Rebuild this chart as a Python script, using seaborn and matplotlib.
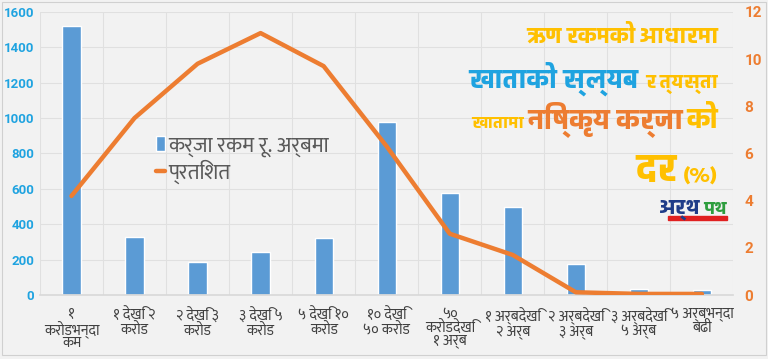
# plot.py
# NPA rate and loan amount by loan-size slab (Nepali labels)

import numpy as np
import pandas as pd
import seaborn as sns
from matplotlib import pyplot as plt

# data
categories = ['१\nकरोडभन्दा\nकम', '१ देखि २\nकरोड', '२ देखि ३\nकरोड', '३ देखि ५\nकरोड',
              '५ देखि १०\nकरोड', '१० देखि\n५० करोड', '५०\nकरोडदेखि\n१ अर्ब', '१ अर्बदेखि\n२ अर्ब',
              '२ अर्बदेखि\n३ अर्ब', '३ अर्बदेखि\n५ अर्ब', '५ अर्बभन्दा\nबढी']
amount  = [1520, 330, 185, 245, 320, 975, 575, 500, 175, 35, 30]
percent = [4.2, 7.5, 9.8, 11.1, 9.7, 6.3, 2.6, 1.7, 0.12, 0.05, 0.05]
left_ticks  = [0, 200, 400, 600, 800, 1000, 1200, 1400, 1600]
right_ticks = [0, 2, 4, 6, 8, 10, 12]

bar_label  = 'कर्जा रकम रू. अर्बमा'
line_label = 'प्रतिशत'

# colours
blue   = '#5B9BD5'
orange = '#ED7D31'
sky    = '#1FA3E0'
gold   = '#FFC000'
grey   = '#404040'

# fonts
text_font  = ['Ek Mukta', 'DejaVu Sans']
title_font = ['Biryani', 'DejaVu Sans']
num_font   = ['Roboto', 'DejaVu Sans']

sns.set_theme(style='whitegrid')
plt.rcParams['font.family'] = text_font

df = pd.DataFrame({'cat': categories, 'amount': amount, 'percent': percent})
df['pos'] = np.arange(len(df))

fig = plt.figure(figsize=(7.68, 3.59), dpi=100, facecolor='#F2F2F2')
ax = fig.add_axes([0.052, 0.178, 0.903, 0.789])
ax.set_facecolor('#F2F2F2')

sns.barplot(data=df, x='pos', y='amount', color=blue, width=0.29, saturation=1,
            ax=ax, label=bar_label, native_scale=True)
ax2 = ax.twinx()
sns.lineplot(data=df, x='pos', y='percent', color=orange, linewidth=3.2, ax=ax2,
             label=line_label)

# axes limits and ticks
ax.set_xlim(-0.5, len(df) - 0.5)
ax.set_ylim(0, 1600)
ax.set_yticks(left_ticks)
ax2.set_ylim(0, 12)
ax2.set_yticks(right_ticks)
ax.set_xticks(df['pos'])
ax.set_xticklabels(categories, fontsize=10.5, color=grey, linespacing=0.95)
ax.set_xlabel('')
ax.set_ylabel('')
ax2.set_ylabel('')
ax.tick_params(axis='y', colors=sky, labelsize=9.5, pad=4, length=0)
for t in ax.get_yticklabels():
    t.set_fontweight('bold')
    t.set_family(num_font)
ax2.tick_params(axis='y', colors=orange, labelsize=11, pad=8, length=0)
for t in ax2.get_yticklabels():
    t.set_fontweight('bold')
    t.set_family(num_font)
ax.tick_params(axis='x', length=0, pad=9)

# grid: horizontal every 200, vertical between categories
ax.grid(axis='y', color='#E0E0E0', linewidth=0.8)
ax.set_xticks(np.arange(-0.5, len(df), 1), minor=True)
ax.grid(axis='x', which='major', visible=False)
ax.grid(axis='x', which='minor', color='#E0E0E0', linewidth=0.8)
ax.tick_params(axis='x', which='minor', length=0)
ax2.grid(False)
for a in (ax, ax2):
    for s in a.spines.values():
        s.set_visible(False)
ax.spines['bottom'].set_visible(True)
ax.spines['bottom'].set_color('#D9D9D9')

# legend
h1, l1 = ax.get_legend_handles_labels()
h2, l2 = ax2.get_legend_handles_labels()
if ax2.get_legend():
    ax2.get_legend().remove()
ax.legend(h1 + h2, l1 + l2, loc='upper left', bbox_to_anchor=(0.155, 0.595),
          frameon=False, fontsize=15.5, labelcolor='#595959', handlelength=0.4,
          handletextpad=0.15, labelspacing=0.12, borderaxespad=0)

# multi-coloured title block, laid out right to left
renderer = fig.canvas.get_renderer()

def write_line(pieces, x_right, y, gap=0.008):
    x = x_right
    for text, color, size in reversed(pieces):
        t = fig.text(x, y, text, color=color, fontsize=size, fontweight='black',
                     family=title_font, ha='right', va='baseline')
        w = t.get_window_extent(renderer).width / fig.bbox.width
        x -= w + gap
    return x + gap

write_line([('ऋण रकमको आधारमा', gold, 16)], 0.935, 0.88)
write_line([('खाताको स्ल्यब', sky, 19), ('र त्यस्ता', gold, 14)], 0.935, 0.755)
write_line([('खातामा', gold, 12), ('निष्कृय कर्जा', orange, 20), ('को', gold, 20)], 0.935, 0.643, gap=0.004)
write_line([('दर', gold, 28), ('(%)', gold, 14)], 0.935, 0.495)

# logo with red underline
logo_right = 0.947
logo_left = write_line([('अर्थ', '#1F3C88', 15), ('पथ', '#2E9E3E', 13)], logo_right, 0.405, gap=0.004)
fig.patches.append(plt.Rectangle((logo_left + 0.01, 0.388), logo_right - logo_left - 0.01, 0.009,
                                 color='#E02020', transform=fig.transFigure, figure=fig))

fig.patches.append(plt.Rectangle((0.003, 0.01), 0.994, 0.985, fill=False,
                                 edgecolor='#D0D0D0', linewidth=0.8,
                                 transform=fig.transFigure, figure=fig))

plt.savefig('out.png', dpi=100, facecolor=fig.get_facecolor())
